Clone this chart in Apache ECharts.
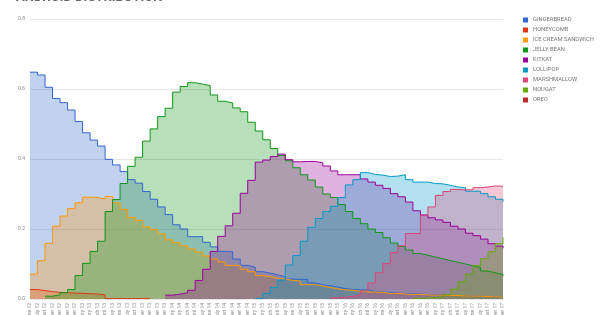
<!DOCTYPE html>
<html><head><meta charset="utf-8">
<script src="https://cdn.jsdelivr.net/npm/echarts@6/dist/echarts.min.js"></script>
<style>html,body{margin:0;padding:0;background:#fff}#c{width:600px;height:315px}</style>
</head><body><div id="c"></div>
<script>
var categories = ['June 12','July 12','August 12','September 12','October 12','November 12','December 12',
 'January 13','February 13','March 13','April 13','May 13','June 13','July 13','August 13','September 13','October 13','November 13','December 13',
 'January 14','February 14','March 14','April 14','May 14','June 14','July 14','August 14','September 14','November 14','December 14',
 'January 15','February 15','March 15','April 15','May 15','June 15','July 15','August 15','September 15','October 15','November 15','December 15',
 'January 16','February 16','March 16','April 16','May 16','June 16','July 16','August 16','September 16','October 16','November 16','December 16',
 'January 17','February 17','March 17','April 17','May 17','June 17','July 17','August 17','September 17','October 17'];

var gingerbread = [0.648,0.640,0.605,0.573,0.561,0.540,0.507,0.475,0.454,0.437,
 0.399,0.383,0.364,0.341,0.331,0.307,0.285,0.263,0.241,0.212,
 0.200,0.178,0.178,0.162,0.149,0.136,0.135,0.114,0.096,0.091,
 0.078,0.074,0.069,0.064,0.057,0.056,0.056,0.046,0.041,0.038,
 0.034,0.030,0.027,0.026,0.026,0.022,0.020,0.019,0.017,0.015,
 0.015,0.014,0.013,0.012,0.012,0.010,0.010,0.010,0.008,0.008,
 0.007,0.006,0.006,0.006];
var honeycomb = [0.027,0.024,0.021,0.019,0.018,0.017,0.016,0.015,0.014,0.012,
 0.001,0.001,0.001,0.001,0.001,0.001,0.001];
var ics = [0.071,0.109,0.159,0.208,0.237,0.258,0.275,0.291,0.290,0.286,
 0.293,0.275,0.256,0.233,0.225,0.206,0.198,0.186,0.169,0.161,
 0.152,0.143,0.134,0.123,0.114,0.106,0.096,0.096,0.085,0.078,
 0.067,0.064,0.059,0.057,0.053,0.051,0.041,0.041,0.037,0.033,
 0.029,0.026,0.025,0.022,0.020,0.020,0.019,0.016,0.016,0.014,
 0.013,0.013,0.012,0.011,0.011,0.010,0.010,0.009,0.008,0.008,
 0.007,0.006,0.006,0.006];
var jellyBean = [null,null,0.008,0.012,0.018,0.027,0.067,0.102,0.136,0.165,
 0.250,0.284,0.330,0.379,0.405,0.451,0.486,0.521,0.545,0.591,
 0.607,0.618,0.614,0.610,0.583,0.565,0.560,0.546,0.535,0.505,
 0.480,0.455,0.430,0.410,0.395,0.375,0.355,0.340,0.320,0.300,
 0.290,0.270,0.250,0.230,0.215,0.200,0.190,0.175,0.160,0.150,
 0.140,0.130,0.125,0.120,0.115,0.110,0.105,0.100,0.095,0.090,
 0.080,0.075,0.070,0.065];
var kitkat = [null,null,null,null,null,null,null,null,null,null,
 null,null,null,null,null,null,null,null,0.011,0.014,
 0.018,0.025,0.053,0.085,0.136,0.179,0.209,0.245,0.302,0.339,
 0.391,0.397,0.407,0.414,0.398,0.392,0.393,0.393,0.389,0.380,
 0.366,0.355,0.355,0.355,0.343,0.334,0.325,0.316,0.301,0.292,
 0.277,0.252,0.240,0.232,0.226,0.219,0.208,0.200,0.188,0.181,
 0.171,0.158,0.151,0.145];
var lollipop = [null,null,null,null,null,null,null,null,null,null,
 null,null,null,null,null,null,null,null,null,null,
 null,null,null,null,null,null,null,null,null,null,
 0.001,0.016,0.033,0.054,0.097,0.124,0.165,0.205,0.230,0.250,
 0.265,0.290,0.326,0.341,0.361,0.356,0.354,0.350,0.351,0.355,
 0.341,0.334,0.334,0.330,0.329,0.325,0.320,0.318,0.308,0.308,
 0.301,0.292,0.285,0.278];
var marshmallow = [null,null,null,null,null,null,null,null,null,null,
 null,null,null,null,null,null,null,null,null,null,
 null,null,null,null,null,null,null,null,null,null,
 null,null,null,null,null,null,null,null,null,null,
 0.003,0.005,0.007,0.012,0.023,0.046,0.075,0.101,0.133,0.152,
 0.187,0.187,0.240,0.263,0.296,0.307,0.313,0.312,0.312,0.318,
 0.320,0.323,0.322,0.320];
var nougat = [null,null,null,null,null,null,null,null,null,null,
 null,null,null,null,null,null,null,null,null,null,
 null,null,null,null,null,null,null,null,null,null,
 null,null,null,null,null,null,null,null,null,null,
 null,null,null,null,null,null,null,null,null,null,
 null,0.002,0.003,0.004,0.005,0.012,0.028,0.049,0.071,0.095,
 0.115,0.135,0.158,0.176];
var oreo = [null,null,null,null,null,null,null,null,null,null,
 null,null,null,null,null,null,null,null,null,null,
 null,null,null,null,null,null,null,null,null,null,
 null,null,null,null,null,null,null,null,null,null,
 null,null,null,null,null,null,null,null,null,null,
 null,null,null,null,null,null,null,null,null,null,
 null,null,null,0.002];

var seriesNames = ['GINGERBREAD','HONEYCOMB','ICE CREAM SANDWICH','JELLY BEAN','KITKAT','LOLLIPOP','MARSHMALLOW','NOUGAT','OREO'];
var seriesData = [gingerbread,honeycomb,ics,jellyBean,kitkat,lollipop,marshmallow,nougat,oreo];
var colors = ['#3366cc','#dc3912','#ff9900','#109618','#990099','#0099c6','#dd4477','#66aa00','#b82e2e'];

var chart = echarts.init(document.getElementById('c'), null, {renderer:'canvas'});
chart.setOption({
  animation:false,
  color:colors,
  textStyle:{fontFamily:'Roboto'},
  title:{text:'ANDROID DISTRIBUTION', left:16, top:-9, padding:0,
    textStyle:{fontSize:13, fontWeight:'bold', color:'#666', fontFamily:'Roboto'}},
  legend:{orient:'vertical', left:523, top:17, padding:0, itemWidth:5, itemHeight:5, itemGap:4, icon:'rect',
    textStyle:{fontSize:5.8, color:'#777', fontFamily:'Roboto'}, data:seriesNames},
  grid:{left:30, right:97, top:19, bottom:16, containLabel:false, outerBoundsMode:'none'},
  xAxis:{type:'category', data:categories, boundaryGap:false,
    axisLine:{show:false}, axisTick:{show:false},
    axisLabel:{rotate:90, interval:0, fontSize:5, color:'#888', margin:4}},
  yAxis:{type:'value', min:0, max:0.8, interval:0.2,
    axisLine:{show:false}, axisTick:{show:false},
    splitLine:{lineStyle:{color:'#e6e6e6', width:1}},
    axisLabel:{fontSize:5, color:'#888', margin:5, formatter:function(v){return v.toFixed(1);}}},
  series: seriesNames.map(function(n,i){
    return {name:n, type:'line', step:'end', data:seriesData[i], symbol:'none',
      lineStyle:{width:1, color:colors[i]}, areaStyle:{opacity:0.3, color:colors[i]}};
  })
});
</script></body></html>
